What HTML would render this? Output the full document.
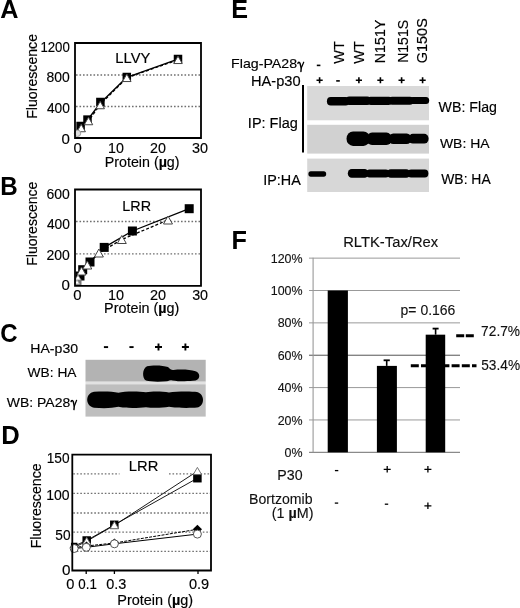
<!DOCTYPE html>
<html><head><meta charset="utf-8"><style>
html,body{margin:0;padding:0;background:#fff;}
body{width:520px;height:608px;overflow:hidden;}
svg{display:block;font-family:"Liberation Sans", sans-serif;filter:blur(0.4px);}
</style></head><body>
<svg width="520" height="608" viewBox="0 0 520 608">
<defs><filter id="bl" x="-10%" y="-30%" width="120%" height="160%"><feGaussianBlur stdDeviation="0.6"/></filter></defs>
<rect width="520" height="608" fill="#fff"/>
<text x="0.17" y="17.8" font-size="26" font-weight="bold" fill="#000" textLength="18.22" lengthAdjust="spacingAndGlyphs">A</text>
<text x="0.22" y="194.8" font-size="26" font-weight="bold" fill="#000" textLength="17.46" lengthAdjust="spacingAndGlyphs">B</text>
<text x="0.34" y="342.0" font-size="26" font-weight="bold" fill="#000" textLength="17.31" lengthAdjust="spacingAndGlyphs">C</text>
<text x="1.37" y="443.5" font-size="26" font-weight="bold" fill="#000" textLength="18.51" lengthAdjust="spacingAndGlyphs">D</text>
<text x="231.20" y="17.6" font-size="26" font-weight="bold" fill="#000" textLength="16.79" lengthAdjust="spacingAndGlyphs">E</text>
<text x="231.40" y="249.4" font-size="26" font-weight="bold" fill="#000" textLength="15.41" lengthAdjust="spacingAndGlyphs">F</text>
<line x1="76" y1="75" x2="200" y2="75" stroke="#707070" stroke-width="1.3" stroke-linecap="butt" stroke-dasharray="1.6 1.9"/>
<line x1="76" y1="106.5" x2="200" y2="106.5" stroke="#707070" stroke-width="1.3" stroke-linecap="butt" stroke-dasharray="1.6 1.9"/>
<text x="40.41" y="52.0" font-size="14.6" font-weight="normal" fill="#000" textLength="29.42" lengthAdjust="spacingAndGlyphs" stroke="#000" stroke-width="0.15">1200</text>
<text x="46.61" y="81.9" font-size="14.6" font-weight="normal" fill="#000" textLength="23.23" lengthAdjust="spacingAndGlyphs" stroke="#000" stroke-width="0.15">800</text>
<text x="46.89" y="113.0" font-size="14.6" font-weight="normal" fill="#000" textLength="22.94" lengthAdjust="spacingAndGlyphs" stroke="#000" stroke-width="0.15">400</text>
<text x="61.50" y="143.7" font-size="14.6" font-weight="normal" fill="#000" textLength="8.39" lengthAdjust="spacingAndGlyphs" stroke="#000" stroke-width="0.15">0</text>
<text x="73.41" y="152.7" font-size="14.28" font-weight="normal" fill="#000" textLength="8.27" lengthAdjust="spacingAndGlyphs" stroke="#000" stroke-width="0.15">0</text>
<text x="108.03" y="152.7" font-size="14.28" font-weight="normal" fill="#000" textLength="15.83" lengthAdjust="spacingAndGlyphs" stroke="#000" stroke-width="0.15">10</text>
<text x="150.09" y="152.7" font-size="14.28" font-weight="normal" fill="#000" textLength="15.88" lengthAdjust="spacingAndGlyphs" stroke="#000" stroke-width="0.15">20</text>
<text x="192.06" y="152.7" font-size="14.28" font-weight="normal" fill="#000" textLength="16.01" lengthAdjust="spacingAndGlyphs" stroke="#000" stroke-width="0.15">30</text>
<text x="104.72" y="166.5" font-size="14.07" font-weight="normal" fill="#000" textLength="74.87" lengthAdjust="spacingAndGlyphs" stroke="#000" stroke-width="0.15">Protein (<tspan font-weight="bold">µ</tspan>g)</text>
<text x="37.0" y="118.77" font-size="14.28" font-weight="normal" fill="#000" textLength="84.77" lengthAdjust="spacingAndGlyphs" transform="rotate(-90 37.0 118.77)" stroke="#000" stroke-width="0.15">Fluorescence</text>
<text x="115.38" y="62.8" font-size="13.97" font-weight="normal" fill="#000" textLength="34.94" lengthAdjust="spacingAndGlyphs" stroke="#000" stroke-width="0.15">LLVY</text>
<polyline points="77,133 80.6,126.5 87.5,120 100.4,103 126.8,77.3 178,59.2" fill="none" stroke="#000" stroke-width="1.4" stroke-linejoin="round"/>
<polyline points="77.5,133.5 81.2,127.5 88.5,120.8 100.2,104.5 126.8,77.8 178,59.8" fill="none" stroke="#000" stroke-width="1.3" stroke-dasharray="3 2" stroke-linejoin="round"/>
<rect x="76.35" y="121.75" width="8.5" height="8.5" fill="#000"/>
<rect x="83.25" y="115.35" width="8.5" height="8.5" fill="#000"/>
<rect x="96.15" y="97.75" width="8.5" height="8.5" fill="#000"/>
<rect x="122.55" y="72.75" width="8.5" height="8.5" fill="#000"/>
<rect x="173.75" y="54.75" width="8.5" height="8.5" fill="#000"/>
<path d="M81.2,124.25 L85.45,131.75 L76.95,131.75 Z" fill="#fff" stroke="#444" stroke-width="1.0"/>
<path d="M88.5,117.25 L92.75,124.75 L84.25,124.75 Z" fill="#fff" stroke="#444" stroke-width="1.0"/>
<path d="M100.2,101.25 L104.45,108.75 L95.95,108.75 Z" fill="#fff" stroke="#444" stroke-width="1.0"/>
<path d="M126.8,74.05 L131.05,81.55 L122.55,81.55 Z" fill="#fff" stroke="#444" stroke-width="1.0"/>
<path d="M178,56.05 L182.25,63.55 L173.75,63.55 Z" fill="#fff" stroke="#444" stroke-width="1.0"/>
<circle cx="77.5" cy="133.3" r="3.2" fill="#ddd" stroke="#999" stroke-width="1.0"/>
<path d="M75,43 H201 V138 H75 Z" fill="none" stroke="#000" stroke-width="1.8"/>
<line x1="76" y1="221.5" x2="200" y2="221.5" stroke="#707070" stroke-width="1.3" stroke-linecap="butt" stroke-dasharray="1.6 1.9"/>
<line x1="76" y1="253.8" x2="200" y2="253.8" stroke="#707070" stroke-width="1.3" stroke-linecap="butt" stroke-dasharray="1.6 1.9"/>
<text x="46.50" y="198.5" font-size="14.38" font-weight="normal" fill="#000" textLength="23.34" lengthAdjust="spacingAndGlyphs" stroke="#000" stroke-width="0.15">600</text>
<text x="46.89" y="228.7" font-size="14.38" font-weight="normal" fill="#000" textLength="22.94" lengthAdjust="spacingAndGlyphs" stroke="#000" stroke-width="0.15">400</text>
<text x="46.50" y="260.0" font-size="14.38" font-weight="normal" fill="#000" textLength="23.34" lengthAdjust="spacingAndGlyphs" stroke="#000" stroke-width="0.15">200</text>
<text x="61.50" y="290.2" font-size="14.38" font-weight="normal" fill="#000" textLength="8.39" lengthAdjust="spacingAndGlyphs" stroke="#000" stroke-width="0.15">0</text>
<text x="73.21" y="299.6" font-size="14.28" font-weight="normal" fill="#000" textLength="8.27" lengthAdjust="spacingAndGlyphs" stroke="#000" stroke-width="0.15">0</text>
<text x="107.92" y="299.6" font-size="14.28" font-weight="normal" fill="#000" textLength="16.06" lengthAdjust="spacingAndGlyphs" stroke="#000" stroke-width="0.15">10</text>
<text x="150.08" y="299.6" font-size="14.28" font-weight="normal" fill="#000" textLength="16.10" lengthAdjust="spacingAndGlyphs" stroke="#000" stroke-width="0.15">20</text>
<text x="192.16" y="299.6" font-size="14.28" font-weight="normal" fill="#000" textLength="15.91" lengthAdjust="spacingAndGlyphs" stroke="#000" stroke-width="0.15">30</text>
<text x="104.12" y="312.5" font-size="14.07" font-weight="normal" fill="#000" textLength="75.28" lengthAdjust="spacingAndGlyphs" stroke="#000" stroke-width="0.15">Protein (<tspan font-weight="bold">µ</tspan>g)</text>
<text x="37.0" y="265.75" font-size="14.28" font-weight="normal" fill="#000" textLength="83.96" lengthAdjust="spacingAndGlyphs" transform="rotate(-90 37.0 265.75)" stroke="#000" stroke-width="0.15">Fluorescence</text>
<text x="122.31" y="210.6" font-size="14.18" font-weight="normal" fill="#000" textLength="28.78" lengthAdjust="spacingAndGlyphs" stroke="#000" stroke-width="0.15">LRR</text>
<polyline points="78.5,282.5 80,276 82.7,269.7 90,262 104.2,247.4 132.4,231 189.2,208.7" fill="none" stroke="#000" stroke-width="1.3" stroke-linejoin="round"/>
<polyline points="77,282 78,277.5 81.5,271 87.3,265 98.9,253 121.8,239.5 168,220" fill="none" stroke="#000" stroke-width="1.3" stroke-dasharray="3 2" stroke-linejoin="round"/>
<rect x="75.5" y="271.5" width="9" height="9" fill="#000"/>
<rect x="78.2" y="265.2" width="9" height="9" fill="#000"/>
<rect x="85.5" y="257.5" width="9" height="9" fill="#000"/>
<rect x="99.7" y="242.9" width="9" height="9" fill="#000"/>
<rect x="127.9" y="226.5" width="9" height="9" fill="#000"/>
<rect x="184.7" y="204.2" width="9" height="9" fill="#000"/>
<rect x="75.5" y="279.5" width="6" height="5.5" fill="#777"/>
<path d="M81.5,267.0 L86.0,275.0 L77.0,275.0 Z" fill="#fff" stroke="#444" stroke-width="1.0"/>
<path d="M87.3,261.0 L91.8,269.0 L82.8,269.0 Z" fill="#fff" stroke="#444" stroke-width="1.0"/>
<path d="M98.9,249.0 L103.4,257.0 L94.4,257.0 Z" fill="#fff" stroke="#444" stroke-width="1.0"/>
<path d="M121.8,235.5 L126.3,243.5 L117.3,243.5 Z" fill="#fff" stroke="#444" stroke-width="1.0"/>
<path d="M168,216.0 L172.5,224.0 L163.5,224.0 Z" fill="#fff" stroke="#444" stroke-width="1.0"/>
<path d="M78,275.0 L81.0,280.0 L75.0,280.0 Z" fill="#fff" stroke="#888" stroke-width="0.8"/>
<path d="M77,280.0 L79.5,284.0 L74.5,284.0 Z" fill="#fff" stroke="#aaa" stroke-width="0.8"/>
<path d="M75,189.5 H201 V285.8 H75 Z" fill="none" stroke="#000" stroke-width="1.8"/>
<text x="30.34" y="352.5" font-size="13.55" font-weight="normal" fill="#000" textLength="47.70" lengthAdjust="spacingAndGlyphs" stroke="#000" stroke-width="0.15">HA-p30</text>
<path d="M103.9,347.1 H108.1" stroke="#000" stroke-width="1.9" fill="none"/>
<path d="M129.4,347.1 H133.6" stroke="#000" stroke-width="1.9" fill="none"/>
<path d="M155.0,347 H162.0 M158.5,343.5 V350.5" stroke="#000" stroke-width="1.9" fill="none"/>
<path d="M181.9,347 H188.9 M185.4,343.5 V350.5" stroke="#000" stroke-width="1.9" fill="none"/>
<text x="27.63" y="377.2" font-size="13.33" font-weight="normal" fill="#000" textLength="48.88" lengthAdjust="spacingAndGlyphs" stroke="#000" stroke-width="0.15">WB: HA</text>
<text x="6.83" y="406.6" font-size="13.33" font-weight="normal" fill="#000" textLength="63.38" lengthAdjust="spacingAndGlyphs" stroke="#000" stroke-width="0.15">WB: PA28</text>
<path d="M71.1,401.5 C71.39999999999999,400.09999999999997 72.7,400.0 73.3,401.7 L74.265,406.3 L73.965,409.6" stroke="#000" stroke-width="1.45" fill="none" stroke-linejoin="round" stroke-linecap="round"/>
<path d="M76.6,400.29999999999995 L74.265,406.3" stroke="#000" stroke-width="1.2325" fill="none" stroke-linecap="round"/>
<rect x="85.5" y="359.8" width="120.2" height="21.9" fill="#b3b3b3"/>
<rect x="85.5" y="381.7" width="120.2" height="2.6" fill="#e2e2e2"/>
<rect x="85.5" y="384.3" width="120.2" height="32.3" fill="#bebebe"/>
<g filter="url(#bl)">
<path d="M147,366.2 C152,365 163,365 168,367 C170,369 171.5,370.3 173.5,370 C180,369.2 190,369.4 195.5,371.2 C200.5,373 200.5,379 195.5,380.6 C188,381.6 178,381.4 172.5,380.4 C170.5,380 169,380.8 167,381.3 C160,381.9 150,381.9 146,380.6 C142,378 142,369 147,366.2 Z" fill="#050505" stroke="none" stroke-width="1"/>
<path d="M94,391.8 C104,391.2 112,391.4 118.5,392.8 C124,391.3 138,391.2 146,392.3 C152,391.2 162,391.3 169,392.5 C176,391.2 192,391.2 197,392 C205,394 205,406 197,407.6 C190,408.2 176,408.2 169,406.8 C162,408.1 152,408.2 146,407.2 C138,408.3 124,408.3 118.5,406.8 C112,408.3 104,408.5 94,407.8 C85,406 85,393.5 94,391.8 Z" fill="#050505" stroke="none" stroke-width="1"/>
</g>
<line x1="73.3" y1="473.9" x2="119.5" y2="473.9" stroke="#707070" stroke-width="1.3" stroke-linecap="butt" stroke-dasharray="1.6 1.9"/>
<line x1="169" y1="473.9" x2="210" y2="473.9" stroke="#707070" stroke-width="1.3" stroke-linecap="butt" stroke-dasharray="1.6 1.9"/>
<line x1="73.3" y1="493.4" x2="210" y2="493.4" stroke="#707070" stroke-width="1.3" stroke-linecap="butt" stroke-dasharray="1.6 1.9"/>
<line x1="73.3" y1="513" x2="210" y2="513" stroke="#707070" stroke-width="1.3" stroke-linecap="butt" stroke-dasharray="1.6 1.9"/>
<line x1="73.3" y1="532.2" x2="210" y2="532.2" stroke="#707070" stroke-width="1.3" stroke-linecap="butt" stroke-dasharray="1.6 1.9"/>
<line x1="73.3" y1="551.3" x2="210" y2="551.3" stroke="#707070" stroke-width="1.3" stroke-linecap="butt" stroke-dasharray="1.6 1.9"/>
<text x="46.67" y="462.7" font-size="14.07" font-weight="normal" fill="#000" textLength="22.85" lengthAdjust="spacingAndGlyphs" stroke="#000" stroke-width="0.15">150</text>
<text x="46.15" y="499.8" font-size="14.07" font-weight="normal" fill="#000" textLength="23.39" lengthAdjust="spacingAndGlyphs" stroke="#000" stroke-width="0.15">100</text>
<text x="55.35" y="539.6" font-size="14.07" font-weight="normal" fill="#000" textLength="15.19" lengthAdjust="spacingAndGlyphs" stroke="#000" stroke-width="0.15">50</text>
<text x="61.99" y="574.5" font-size="14.07" font-weight="normal" fill="#000" textLength="8.50" lengthAdjust="spacingAndGlyphs" stroke="#000" stroke-width="0.15">0</text>
<line x1="86.2" y1="570.5" x2="86.2" y2="574.0" stroke="#000" stroke-width="1.3" stroke-linecap="butt"/>
<line x1="114.4" y1="570.5" x2="114.4" y2="574.0" stroke="#000" stroke-width="1.3" stroke-linecap="butt"/>
<line x1="198" y1="570.5" x2="198" y2="574.0" stroke="#000" stroke-width="1.3" stroke-linecap="butt"/>
<text x="66.21" y="589.0" font-size="14.49" font-weight="normal" fill="#000" textLength="8.15" lengthAdjust="spacingAndGlyphs" stroke="#000" stroke-width="0.15">0</text>
<text x="78.27" y="589.0" font-size="14.49" font-weight="normal" fill="#000" textLength="18.57" lengthAdjust="spacingAndGlyphs" stroke="#000" stroke-width="0.15">0.1</text>
<text x="106.32" y="589.0" font-size="14.49" font-weight="normal" fill="#000" textLength="20.10" lengthAdjust="spacingAndGlyphs" stroke="#000" stroke-width="0.15">0.3</text>
<text x="188.92" y="589.0" font-size="14.49" font-weight="normal" fill="#000" textLength="20.24" lengthAdjust="spacingAndGlyphs" stroke="#000" stroke-width="0.15">0.9</text>
<text x="117.31" y="604.6" font-size="14.07" font-weight="normal" fill="#000" textLength="75.89" lengthAdjust="spacingAndGlyphs" stroke="#000" stroke-width="0.15">Protein (<tspan font-weight="bold">µ</tspan>g)</text>
<text x="41.4" y="548.27" font-size="14.28" font-weight="normal" fill="#000" textLength="84.88" lengthAdjust="spacingAndGlyphs" transform="rotate(-90 41.4 548.27)" stroke="#000" stroke-width="0.15">Fluorescence</text>
<text x="128.78" y="471.1" font-size="14.18" font-weight="normal" fill="#000" textLength="29.53" lengthAdjust="spacingAndGlyphs" stroke="#000" stroke-width="0.15">LRR</text>
<polyline points="74.2,546 86.7,540.5 114.3,524.8 197.4,478.2" fill="none" stroke="#000" stroke-width="0.9" stroke-linejoin="round"/>
<polyline points="74.2,547.5 86.7,541.2 114.4,525.3 197.4,471.2" fill="none" stroke="#000" stroke-width="0.9" stroke-linejoin="round"/>
<polyline points="74.2,547.5 86.5,546 114.4,543 197.4,529.3" fill="none" stroke="#000" stroke-width="1.0" stroke-dasharray="3 1.2" stroke-linejoin="round"/>
<polyline points="74.2,548.5 86.3,547.3 114.4,543.8 197.4,534.1" fill="none" stroke="#000" stroke-width="1.0" stroke-linejoin="round"/>
<rect x="82.45" y="536.25" width="8.5" height="8.5" fill="#000"/>
<rect x="110.05" y="520.55" width="8.5" height="8.5" fill="#000"/>
<rect x="193.15" y="473.95" width="8.5" height="8.5" fill="#000"/>
<rect x="70.95" y="542.75" width="6.5" height="6.5" fill="#000"/>
<path d="M86.7,537.4000000000001 L90.9,544.6 L82.5,544.6 Z" fill="#fff" stroke="#666" stroke-width="0.9"/>
<path d="M114.4,521.5 L118.60000000000001,528.6999999999999 L110.2,528.6999999999999 Z" fill="#fff" stroke="#666" stroke-width="0.9"/>
<path d="M197.4,467.4 L201.6,474.59999999999997 L193.20000000000002,474.59999999999997 Z" fill="#fff" stroke="#666" stroke-width="0.9"/>
<path d="M74.2,542.9 L78.8,547.5 L74.2,552.1 L69.60000000000001,547.5 Z" fill="#000" stroke="none" stroke-width="0"/>
<path d="M86.5,541.4 L91.1,546 L86.5,550.6 L81.9,546 Z" fill="#000" stroke="none" stroke-width="0"/>
<path d="M114.4,538.4 L119.0,543 L114.4,547.6 L109.80000000000001,543 Z" fill="#000" stroke="none" stroke-width="0"/>
<path d="M197.4,524.6999999999999 L202.0,529.3 L197.4,533.9 L192.8,529.3 Z" fill="#000" stroke="none" stroke-width="0"/>
<circle cx="74.2" cy="548.5" r="4.0" fill="#fff" stroke="#555" stroke-width="1.0"/>
<circle cx="86.3" cy="547.3" r="4.0" fill="#fff" stroke="#555" stroke-width="1.0"/>
<circle cx="114.4" cy="543.8" r="4.0" fill="#fff" stroke="#555" stroke-width="1.0"/>
<circle cx="197.4" cy="534.1" r="4.0" fill="#fff" stroke="#555" stroke-width="1.0"/>
<path d="M72.3,454.7 H211 V570.5 H72.3 Z" fill="none" stroke="#000" stroke-width="1.8"/>
<text x="231.13" y="68.3" font-size="13.65" font-weight="normal" fill="#000" textLength="65.98" lengthAdjust="spacingAndGlyphs" stroke="#000" stroke-width="0.15">Flag-PA28</text>
<path d="M297.90000000000003,63.4 C298.20000000000005,62.0 299.5,61.9 300.1,63.599999999999994 L301.23,68.0 L300.93,71.5" stroke="#000" stroke-width="1.45" fill="none" stroke-linejoin="round" stroke-linecap="round"/>
<path d="M303.7,62.199999999999996 L301.23,68.0" stroke="#000" stroke-width="1.2325" fill="none" stroke-linecap="round"/>
<text x="250.99" y="86.3" font-size="13.86" font-weight="normal" fill="#000" textLength="49.56" lengthAdjust="spacingAndGlyphs" stroke="#000" stroke-width="0.15">HA-p30</text>
<path d="M316.8,65.4 H320.40000000000003" stroke="#000" stroke-width="1.6" fill="none"/>
<path d="M316.5,80.2 H322.70000000000005 M319.6,77.2 V83.2" stroke="#000" stroke-width="1.6" fill="none"/>
<path d="M355.79999999999995,80.2 H362.0 M358.9,77.2 V83.2" stroke="#000" stroke-width="1.6" fill="none"/>
<path d="M377.29999999999995,80.2 H383.5 M380.4,77.2 V83.2" stroke="#000" stroke-width="1.6" fill="none"/>
<path d="M398.5,80.2 H404.70000000000005 M401.6,77.2 V83.2" stroke="#000" stroke-width="1.6" fill="none"/>
<path d="M419.5,80.2 H425.70000000000005 M422.6,77.2 V83.2" stroke="#000" stroke-width="1.6" fill="none"/>
<path d="M336.2,80.9 H339.8" stroke="#000" stroke-width="1.6" fill="none"/>
<text x="343.7" y="63.67" font-size="15.12" font-weight="normal" fill="#000" textLength="22.49" lengthAdjust="spacingAndGlyphs" transform="rotate(-90 343.7 63.67)" stroke="#000" stroke-width="0.15">WT</text>
<text x="363.8" y="63.67" font-size="15.12" font-weight="normal" fill="#000" textLength="22.49" lengthAdjust="spacingAndGlyphs" transform="rotate(-90 363.8 63.67)" stroke="#000" stroke-width="0.15">WT</text>
<text x="385.0" y="63.28" font-size="15.12" font-weight="normal" fill="#000" textLength="43.60" lengthAdjust="spacingAndGlyphs" transform="rotate(-90 385.0 63.28)" stroke="#000" stroke-width="0.15">N151Y</text>
<text x="407.9" y="62.86" font-size="15.12" font-weight="normal" fill="#000" textLength="43.03" lengthAdjust="spacingAndGlyphs" transform="rotate(-90 407.9 62.86)" stroke="#000" stroke-width="0.15">N151S</text>
<text x="427.1" y="63.12" font-size="15.12" font-weight="normal" fill="#000" textLength="44.88" lengthAdjust="spacingAndGlyphs" transform="rotate(-90 427.1 63.12)" stroke="#000" stroke-width="0.15">G150S</text>
<line x1="303" y1="85" x2="303" y2="152.5" stroke="#000" stroke-width="2" stroke-linecap="butt"/>
<text x="247.86" y="127.5" font-size="13.97" font-weight="normal" fill="#000" textLength="49.96" lengthAdjust="spacingAndGlyphs" stroke="#000" stroke-width="0.15">IP: Flag</text>
<text x="263.27" y="184.6" font-size="13.97" font-weight="normal" fill="#000" textLength="37.56" lengthAdjust="spacingAndGlyphs" stroke="#000" stroke-width="0.15">IP:HA</text>
<text x="438.63" y="112.0" font-size="13.97" font-weight="normal" fill="#000" textLength="58.28" lengthAdjust="spacingAndGlyphs" stroke="#000" stroke-width="0.15">WB: Flag</text>
<text x="439.93" y="148.3" font-size="13.55" font-weight="normal" fill="#000" textLength="49.68" lengthAdjust="spacingAndGlyphs" stroke="#000" stroke-width="0.15">WB: HA</text>
<text x="441.23" y="184.2" font-size="13.76" font-weight="normal" fill="#000" textLength="49.48" lengthAdjust="spacingAndGlyphs" stroke="#000" stroke-width="0.15">WB: HA</text>
<rect x="307.2" y="86" width="121.8" height="34.3" fill="#d9d9d9"/>
<rect x="307.2" y="124.8" width="121.8" height="28.8" fill="#d1d1d1"/>
<rect x="307.2" y="158.6" width="121.8" height="33.4" fill="#d7d7d7"/>
<g filter="url(#bl)">
<rect x="326.9" y="97.0" width="22.600000000000023" height="8.599999999999994" rx="3.87" ry="4.30" fill="#050505"/>
<rect x="345.5" y="96.6" width="25.5" height="8.400000000000006" rx="3.78" ry="4.20" fill="#050505"/>
<rect x="367" y="96.7" width="25.5" height="8.200000000000003" rx="3.69" ry="4.10" fill="#050505"/>
<rect x="388.5" y="96.7" width="25.0" height="8.0" rx="3.60" ry="4.00" fill="#050505"/>
<rect x="409.5" y="97.0" width="19.69999999999999" height="7.099999999999994" rx="3.19" ry="3.55" fill="#050505"/>
<rect x="346.5" y="131.4" width="23.5" height="14.599999999999994" rx="6.57" ry="7.30" fill="#050505"/>
<rect x="366.5" y="132.6" width="25.5" height="12.400000000000006" rx="5.58" ry="6.20" fill="#050505"/>
<rect x="388.5" y="133.4" width="23.0" height="10.599999999999994" rx="4.77" ry="5.30" fill="#050505"/>
<rect x="408.5" y="133.8" width="20.100000000000023" height="9.799999999999983" rx="4.41" ry="4.90" fill="#050505"/>
<rect x="308.4" y="171.3" width="17.80000000000001" height="5.399999999999977" rx="2.43" ry="2.70" fill="#050505"/>
<rect x="347.8" y="169.1" width="20.69999999999999" height="8.700000000000017" rx="3.92" ry="4.35" fill="#050505"/>
<rect x="366" y="169.4" width="23.5" height="8.199999999999989" rx="3.69" ry="4.10" fill="#050505"/>
<rect x="387" y="169.2" width="23" height="8.600000000000023" rx="3.87" ry="4.30" fill="#050505"/>
<rect x="407.5" y="169.5" width="20.899999999999977" height="8.0" rx="3.60" ry="4.00" fill="#050505"/>
</g>
<text x="343.18" y="247.2" font-size="14.28" font-weight="normal" fill="#111" textLength="95.00" lengthAdjust="spacingAndGlyphs" stroke="#111" stroke-width="0.12">RLTK-Tax/Rex</text>
<line x1="309" y1="419.94" x2="460" y2="419.94" stroke="#999" stroke-width="1.0" stroke-linecap="butt"/>
<line x1="309" y1="387.58000000000004" x2="460" y2="387.58000000000004" stroke="#999" stroke-width="1.0" stroke-linecap="butt"/>
<line x1="309" y1="355.22" x2="460" y2="355.22" stroke="#555" stroke-width="1.0" stroke-linecap="butt"/>
<line x1="309" y1="322.86" x2="460" y2="322.86" stroke="#999" stroke-width="1.0" stroke-linecap="butt"/>
<line x1="309" y1="290.5" x2="460" y2="290.5" stroke="#999" stroke-width="1.0" stroke-linecap="butt"/>
<line x1="309" y1="258.14" x2="460" y2="258.14" stroke="#999" stroke-width="1.0" stroke-linecap="butt"/>
<line x1="309" y1="452.3" x2="460" y2="452.3" stroke="#8a8a8a" stroke-width="1.2" stroke-linecap="butt"/>
<line x1="313.1" y1="257.64" x2="313.1" y2="452.3" stroke="#999" stroke-width="1.1" stroke-linecap="butt"/>
<text x="284.59" y="456.9" font-size="12.81" font-weight="normal" fill="#111" textLength="17.99" lengthAdjust="spacingAndGlyphs" stroke="#111" stroke-width="0.12">0%</text>
<text x="277.65" y="424.54" font-size="12.81" font-weight="normal" fill="#111" textLength="24.91" lengthAdjust="spacingAndGlyphs" stroke="#111" stroke-width="0.12">20%</text>
<text x="277.65" y="392.18" font-size="12.81" font-weight="normal" fill="#111" textLength="24.91" lengthAdjust="spacingAndGlyphs" stroke="#111" stroke-width="0.12">40%</text>
<text x="277.65" y="359.82" font-size="12.81" font-weight="normal" fill="#111" textLength="24.91" lengthAdjust="spacingAndGlyphs" stroke="#111" stroke-width="0.12">60%</text>
<text x="277.65" y="327.46" font-size="12.81" font-weight="normal" fill="#111" textLength="24.91" lengthAdjust="spacingAndGlyphs" stroke="#111" stroke-width="0.12">80%</text>
<text x="270.74" y="295.1" font-size="12.81" font-weight="normal" fill="#111" textLength="31.83" lengthAdjust="spacingAndGlyphs" stroke="#111" stroke-width="0.12">100%</text>
<text x="270.74" y="262.74" font-size="12.81" font-weight="normal" fill="#111" textLength="31.83" lengthAdjust="spacingAndGlyphs" stroke="#111" stroke-width="0.12">120%</text>
<rect x="327.7" y="290.5" width="20.2" height="161.8" fill="#000"/>
<rect x="376.9" y="365.8988" width="20" height="86.40120000000002" fill="#000"/>
<rect x="425.7" y="334.6714" width="19.5" height="117.6286" fill="#000"/>
<line x1="386.7" y1="360.3" x2="386.7" y2="365.8988" stroke="#000" stroke-width="1.6" stroke-linecap="butt"/>
<line x1="383.6" y1="360.3" x2="389.8" y2="360.3" stroke="#000" stroke-width="1.8" stroke-linecap="butt"/>
<line x1="435.6" y1="328.6" x2="435.6" y2="334.6714" stroke="#000" stroke-width="1.6" stroke-linecap="butt"/>
<line x1="432.6" y1="328.6" x2="438.6" y2="328.6" stroke="#000" stroke-width="1.8" stroke-linecap="butt"/>
<text x="400.59" y="315.4" font-size="14.28" font-weight="normal" fill="#111" textLength="54.81" lengthAdjust="spacingAndGlyphs" stroke="#111" stroke-width="0.12">p= 0.166</text>
<line x1="456.2" y1="335.8" x2="474" y2="335.8" stroke="#000" stroke-width="3" stroke-linecap="butt" stroke-dasharray="8 1.6"/>
<line x1="410.8" y1="365.8" x2="476.5" y2="365.8" stroke="#000" stroke-width="3" stroke-linecap="butt" stroke-dasharray="8 2.2"/>
<text x="481.08" y="335.8" font-size="13.86" font-weight="normal" fill="#111" textLength="39.01" lengthAdjust="spacingAndGlyphs" stroke="#111" stroke-width="0.12">72.7%</text>
<text x="481.25" y="370.0" font-size="13.86" font-weight="normal" fill="#111" textLength="38.83" lengthAdjust="spacingAndGlyphs" stroke="#111" stroke-width="0.12">53.4%</text>
<text x="277.33" y="480.0" font-size="14.28" font-weight="normal" fill="#111" textLength="25.23" lengthAdjust="spacingAndGlyphs" stroke="#111" stroke-width="0.12">P30</text>
<text x="249.14" y="503.5" font-size="14.07" font-weight="normal" fill="#111" textLength="63.35" lengthAdjust="spacingAndGlyphs" stroke="#111" stroke-width="0.12">Bortzomib</text>
<text x="271.80" y="517.8" font-size="14.07" font-weight="normal" fill="#111" textLength="41.72" lengthAdjust="spacingAndGlyphs" stroke="#111" stroke-width="0.12">(1 <tspan font-weight="bold">µ</tspan>M)</text>
<path d="M334.90000000000003,470.6 H338.3" stroke="#000" stroke-width="1.3" fill="none"/>
<path d="M334.8,503.1 H338.2" stroke="#000" stroke-width="1.3" fill="none"/>
<path d="M384.8,504.2 H388.2" stroke="#000" stroke-width="1.3" fill="none"/>
<path d="M383.7,469.3 H390.7 M387.2,466.0 V472.6" stroke="#000" stroke-width="1.3" fill="none"/>
<path d="M424.4,469.3 H431.4 M427.9,466.0 V472.6" stroke="#000" stroke-width="1.3" fill="none"/>
<path d="M424.4,505.8 H431.4 M427.9,502.5 V509.1" stroke="#000" stroke-width="1.3" fill="none"/>
</svg>
</body></html>
